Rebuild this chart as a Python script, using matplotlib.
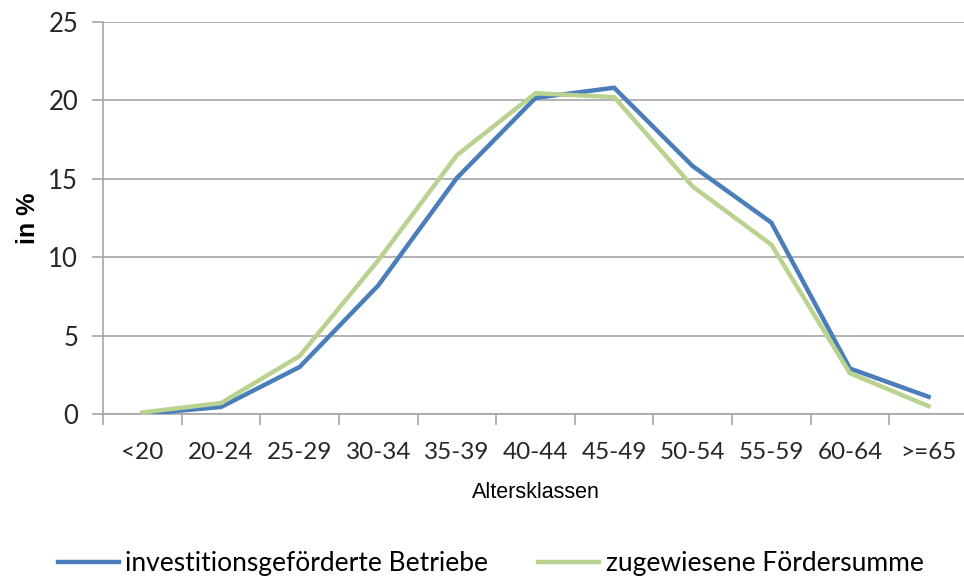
import matplotlib.pyplot as plt
import numpy as np

plt.rcParams['font.family'] = ['Lato', 'DejaVu Sans']

# Altersklassen and shares in %
klassen = ["<20", "20-24", "25-29", "30-34", "35-39", "40-44",
           "45-49", "50-54", "55-59", "60-64", ">=65"]
betriebe = [0.0, 0.45, 3.0, 8.2, 15.05, 20.15, 20.8, 15.8, 12.2, 2.9, 1.1]
foerdersumme = [0.1, 0.7, 3.7, 9.8, 16.5, 20.45, 20.2, 14.5, 10.8, 2.6, 0.5]

blue = "#4a7ebb"
green = "#b9d28f"
grid_col = "#a6a6a6"

fig = plt.figure(figsize=(9.64, 5.81), dpi=100)
ax = fig.add_axes([0.107, 0.2874, 0.897, 0.675])

x = np.arange(len(klassen))
ax.plot(x, betriebe, color=blue, lw=3.2, label="investitionsgeförderte Betriebe",
        solid_joinstyle='miter', zorder=3)
ax.plot(x, foerdersumme, color=green, lw=3.2, label="zugewiesene Fördersumme",
        solid_joinstyle='miter', zorder=3)

ax.set_xlim(-0.5, len(klassen) - 0.5)
ax.set_ylim(0, 25)
ax.set_yticks([0, 5, 10, 15, 20, 25])
ax.yaxis.grid(True, color=grid_col, lw=1.2)
ax.set_axisbelow(True)

# category labels at centers, tick marks between categories
ax.set_xticks(x)
ax.set_xticklabels(klassen)
ax.set_xticks(np.arange(-0.5, len(klassen) + 0.5, 1), minor=True)
ax.tick_params(axis='x', which='major', length=0, pad=20, labelsize=17.5)
ax.tick_params(axis='x', which='minor', length=8, width=1.2, color=grid_col)
ax.tick_params(axis='y', length=8, width=1.2, color=grid_col, labelsize=18.5, pad=10)
for t in ax.get_xticklabels() + ax.get_yticklabels():
    t.set_color("#262626")

for s in ["top", "right"]:
    ax.spines[s].set_visible(False)
for s in ["left", "bottom"]:
    ax.spines[s].set_color(grid_col)
    ax.spines[s].set_linewidth(1.2)

ax.set_ylabel("in %", fontsize=18, fontweight='bold', labelpad=6,
              family=['Liberation Sans', 'DejaVu Sans'])
ax.set_xlabel("Altersklassen", fontsize=15.5, labelpad=14,
              family=['Liberation Sans', 'DejaVu Sans'])

fig.legend(loc='lower center', bbox_to_anchor=(0.509, -0.033), ncol=2, frameon=False,
           prop={'family': ['Lato', 'DejaVu Sans'], 'size': 19},
           handlelength=2.3, handletextpad=0.25, columnspacing=1.9)

fig.savefig("out.png", dpi=100)
